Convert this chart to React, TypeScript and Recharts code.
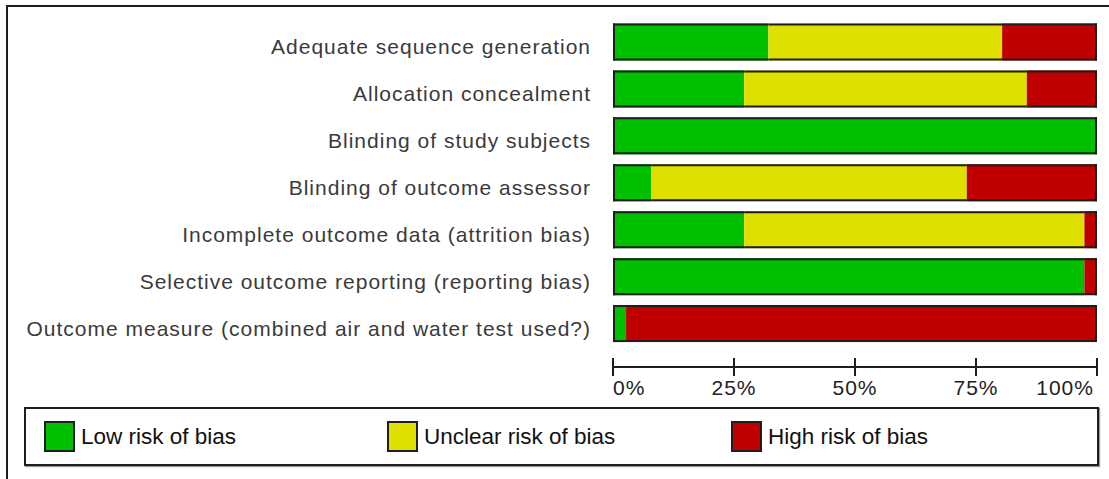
import { BarChart, Bar, XAxis, YAxis } from 'recharts'

const DOMAINS = [
  'Adequate sequence generation',
  'Allocation concealment',
  'Blinding of study subjects',
  'Blinding of outcome assessor',
  'Incomplete outcome data (attrition bias)',
  'Selective outcome reporting (reporting bias)',
  'Outcome measure (combined air and water test used?)',
]

// percent of studies per judgement
const LOW = [32.1, 27.1, 100, 7.9, 27.1, 97.4, 2.7]
const UNCLEAR = [48.3, 58.4, 0, 65.2, 70.3, 0, 0]
const HIGH = [19.6, 14.5, 0, 26.9, 2.6, 2.6, 97.3]

const TICKS = [0, 25, 50, 75, 100]

const SERIES = [
  { key: 'low', label: 'Low risk of bias', color: '#00C000' },
  { key: 'unclear', label: 'Unclear risk of bias', color: '#E0E000' },
  { key: 'high', label: 'High risk of bias', color: '#C00000' },
]

const data = DOMAINS.map((name, i) => ({
  name,
  low: LOW[i],
  unclear: UNCLEAR[i],
  high: HIGH[i],
}))

const OUTLINE = '#1e1e1e'
const FONT = '"Liberation Sans", Arial, sans-serif'

const makeSegment = (key: string) => (props: any) => {
  const { x, y, width, height, fill, payload } = props
  if (!width || width <= 0) return <g />
  const idx = SERIES.findIndex((s) => s.key === key)
  const before = SERIES.slice(0, idx).reduce((a, s) => a + (payload[s.key] || 0), 0)
  const after = SERIES.slice(idx + 1).reduce((a, s) => a + (payload[s.key] || 0), 0)
  return (
    <g>
      <rect x={x} y={y} width={width} height={height} fill={fill} />
      <line x1={x} x2={x + width} y1={y + 1} y2={y + 1} stroke={OUTLINE} strokeWidth={2} />
      <line x1={x} x2={x + width} y1={y + height - 1} y2={y + height - 1} stroke={OUTLINE} strokeWidth={2} />
      {before === 0 && (
        <line x1={x + 1} x2={x + 1} y1={y} y2={y + height} stroke={OUTLINE} strokeWidth={2} />
      )}
      {after === 0 && (
        <line x1={x + width - 1} x2={x + width - 1} y1={y} y2={y + height} stroke={OUTLINE} strokeWidth={2} />
      )}
    </g>
  )
}

const CategoryTick = (props: any) => {
  const { x, y, payload } = props
  return (
    <text
      x={x - 22}
      y={y + 12}
      textAnchor="end"
      fontSize={21}
      letterSpacing={1}
      fill="#3a3a3a"
      fontFamily={FONT}
    >
      {payload.value}
    </text>
  )
}

const PercentTick = (props: any) => {
  const { x, y, payload, index } = props
  const last = index === TICKS.length - 1
  const anchor = index === 0 ? 'start' : last ? 'end' : 'middle'
  return (
    <g>
      <line x1={x} x2={x} y1={y - 9} y2={y + 9} stroke={OUTLINE} strokeWidth={2} />
      <text
        x={last ? x - 3 : x}
        y={y + 28}
        textAnchor={anchor}
        fontSize={21}
        letterSpacing={1}
        fill="#222"
        fontFamily={FONT}
      >
        {payload.value}%
      </text>
    </g>
  )
}

export default function App() {
  return (
    <div
      style={{
        position: 'absolute',
        left: 0,
        top: 0,
        width: 1109,
        height: 479,
        overflow: 'hidden',
        background: '#fff',
        fontFamily: FONT,
      }}
    >
      <div
        style={{
          position: 'absolute',
          left: 6,
          top: 5,
          width: 1109,
          height: 479,
          borderTop: `2px solid ${OUTLINE}`,
          borderLeft: `2px solid ${OUTLINE}`,
        }}
      />
      <div style={{ position: 'absolute', left: 0, top: 0 }}>
        <BarChart
          width={1109}
          height={410}
          data={data}
          layout="vertical"
          margin={{ top: 18.5, right: 12, bottom: 0, left: 0 }}
          barSize={37}
        >
          <XAxis
            type="number"
            domain={[0, 100]}
            ticks={TICKS}
            interval={0}
            height={43}
            tickSize={0}
            tickMargin={0}
            tickLine={false}
            axisLine={{ stroke: OUTLINE, strokeWidth: 2 }}
            tick={<PercentTick />}
          />
          <YAxis
            type="category"
            dataKey="name"
            width={613}
            padding={{ top: 0, bottom: 20 }}
            tickSize={0}
            tickMargin={0}
            tickLine={false}
            axisLine={false}
            interval={0}
            tick={<CategoryTick />}
          />
          {SERIES.map((s) => (
            <Bar
              key={s.key}
              dataKey={s.key}
              stackId="risk"
              fill={s.color}
              isAnimationActive={false}
              shape={makeSegment(s.key)}
            />
          ))}
        </BarChart>
      </div>
      <div
        style={{
          position: 'absolute',
          left: 24,
          top: 407,
          width: 1071,
          height: 55,
          border: `2px solid ${OUTLINE}`,
          boxShadow: '1px 1px 1px #999',
        }}
      >
        {SERIES.map((s, i) => (
          <div
            key={s.key}
            style={{
              position: 'absolute',
              left: [18, 361, 705][i],
              top: 12,
              display: 'flex',
              alignItems: 'center',
            }}
          >
            <div
              style={{
                width: 27,
                height: 27,
                background: s.color,
                border: `2px solid ${OUTLINE}`,
              }}
            />
            <span
              style={{
                marginLeft: 6,
                fontSize: 22.5,
                color: '#111',
                fontFamily: FONT,
              }}
            >
              {s.label}
            </span>
          </div>
        ))}
      </div>
    </div>
  )
}
